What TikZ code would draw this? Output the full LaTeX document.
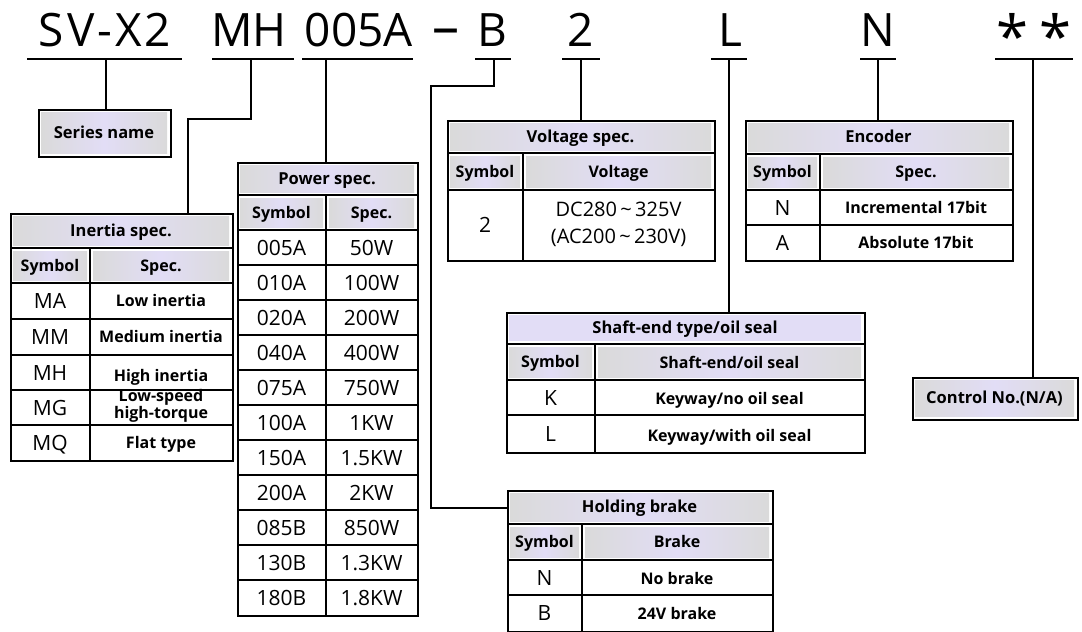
\documentclass[tikz,border=0pt]{standalone}
\usepackage{fontspec}
\setmainfont{Open Sans}
\definecolor{hgray}{RGB}{218,218,218}
\definecolor{hlav}{RGB}{226,221,246}
\tikzset{
  ln/.style={line width=1.6pt},
  tbl/.style={draw, line width=1.8pt, inner sep=0pt, anchor=north west},
  grid/.style={line width=1.8pt},
  hshade/.style={left color=hgray, right color=hgray, middle color=hlav},
  lshade/.style={fill=hlav},
  toptext/.style={font=\fontsize{46}{50}\selectfont, anchor=base, inner sep=0pt},
  hd/.style={font=\bfseries\fontsize{16.5}{18}\selectfont, inner sep=0pt, text height=11.8pt, text depth=0pt},
  bd/.style={font=\bfseries\fontsize{16}{18}\selectfont, inner sep=0pt, text height=11.4pt, text depth=0pt},
  bdm/.style={font=\bfseries\fontsize{16}{17}\selectfont, inner sep=0pt, align=center},
  rg/.style={font=\fontsize{21}{24}\selectfont, inner sep=0pt, text height=15pt, text depth=0pt},
  rgm/.style={font=\fontsize{20}{27}\selectfont, inner sep=0pt, align=center},
}
\begin{document}
\begin{tikzpicture}[x=1pt,y=-1pt]
\useasboundingbox (0,0) rectangle (1082,632);
% ---------- top code ----------
\node[toptext] (tsv) at (105,46) {S\kern3pt V\kern3pt -\kern3pt X\kern3pt 2};
\node[toptext] (tmh) at (249,46) {MH};
\node[toptext] (t005) at (359,46) {005A};
\node[toptext, font=\fontsize{54}{58}\selectfont] (tdash) at (446,45) {–};
\node[toptext] (tb) at (492,46) {B};
\node[toptext] (t2) at (581,46) {2};
\node[toptext] (tl) at (730,46) {L};
\node[toptext] (tn) at (878,46) {N};
\node[toptext, font=\fontsize{58}{60}\selectfont] (tst) at (1034,57) {*\hspace{12pt}*};
% underlines
\draw[ln] (27,59) -- (182,59);
\draw[ln] (212,59) -- (294,59);
\draw[ln] (302,59) -- (413,59);
\draw[ln] (475,59) -- (511,59);
\draw[ln] (562,59) -- (600,59);
\draw[ln] (711,59) -- (747,59);
\draw[ln] (860,59) -- (896,59);
\draw[ln] (995,59) -- (1073,59);
\coordinate (usv) at (106,59);
\coordinate (umh) at (251,59);
\coordinate (u005) at (326,59);
\coordinate (ub) at (494,59);
\coordinate (u2) at (581,59);
\coordinate (ul) at (729,59);
\coordinate (un) at (878,59);
\coordinate (ust) at (1033,59);
\coordinate (kmh) at (188,119);
\coordinate (kb) at (431,86);
\coordinate (kb2) at (431,508);

% ---------- Series name ----------
\fill[hshade] (41,112) rectangle (167,153);
\node[tbl, minimum width=132pt, minimum height=47pt] (series) at (38,109) {};
\node[hd] (seriest) at (104,132.5) {Series name};

% ---------- Inertia ----------
\fill[hshade] (13,216) rectangle (229,245);
\fill[hshade] (13,251) rectangle (87,280);
\fill[hshade] (93,251) rectangle (229,280);
\node[tbl, minimum width=222pt, minimum height=247pt] (inertia) at (10,213) {};
\draw[grid] (10,248) -- (232,248);
\foreach \y in {283,319,355,390,425} \draw[grid] (10,\y) -- (232,\y);
\draw[grid] (90,248) -- (90,460);
\node[hd] (ih) at (121,231) {Inertia spec.};
\node[bd] (is) at (50,266) {Symbol};
\node[bd] (ic) at (161,266) {Spec.};
\node[rg] (i1a) at (50,301) {MA};
\node[bd] (i1b) at (161,301) {Low inertia};
\node[rg] (i2a) at (50,337) {MM};
\node[bd] (i2b) at (161,337) {Medium inertia};
\node[rg] (i3a) at (50,372.5) {MH};
\node[bd] (i3b) at (161,376) {High inertia};
\node[rg] (i4a) at (50,407.5) {MG};
\node[bdm] (i4b) at (161,406) {Low-speed\\high-torque};
\node[rg] (i5a) at (50,442.5) {MQ};
\node[bd] (i5b) at (161,442.5) {Flat type};

% ---------- Power ----------
\fill[hshade] (240,165) rectangle (414,192);
\fill[hshade] (240,198) rectangle (323,227);
\fill[hshade] (329,198) rectangle (414,227);
\node[tbl, minimum width=180pt, minimum height=453pt] (power) at (237,162) {};
\draw[grid] (237,195) -- (417,195);
\foreach \y in {230,265,...,580} \draw[grid] (237,\y) -- (417,\y);
\draw[grid] (326,195) -- (326,615);
\node[hd] (ph) at (327,179) {Power spec.};
\node[bd] (ps) at (281.5,213) {Symbol};
\node[bd] (pc) at (371.5,213) {Spec.};
\foreach \s/\w [count=\i from 0] in {005A/50W,010A/100W,020A/200W,040A/400W,075A/750W,100A/1KW,150A/1.5KW,200A/2KW,085B/850W,130B/1.3KW,180B/1.8KW}{
  \node[rg] (pa\i) at (281.5,247.5+35*\i) {\s};
  \node[rg] (pb\i) at (371.5,247.5+35*\i) {\w};
}

% ---------- Voltage ----------
\fill[hshade] (450,123) rectangle (711,150);
\fill[hshade] (450,156) rectangle (520,187);
\fill[hshade] (526,156) rectangle (711,187);
\node[tbl, minimum width=267pt, minimum height=140pt] (volt) at (447,120) {};
\draw[grid] (447,153) -- (714,153);
\draw[grid] (447,190) -- (714,190);
\draw[grid] (523,153) -- (523,260);
\node[hd] (vh) at (580.5,136.5) {Voltage spec.};
\node[bd] (vs) at (485,171.5) {Symbol};
\node[bd] (vc) at (618.5,171.5) {Voltage};
\node[rg] (v1a) at (485,225) {2};
\node[rgm] (v1b) at (618.5,224) {DC280\,\textasciitilde\,325V\\(AC200\,\textasciitilde\,230V)};

% ---------- Encoder ----------
\fill[hshade] (748,123) rectangle (1009,151);
\fill[hshade] (748,157) rectangle (817,187);
\fill[hshade] (823,157) rectangle (1009,187);
\node[tbl, minimum width=267pt, minimum height=140pt] (enc) at (745,120) {};
\draw[grid] (745,154) -- (1012,154);
\draw[grid] (745,190) -- (1012,190);
\draw[grid] (745,225) -- (1012,225);
\draw[grid] (820,154) -- (820,260);
\node[hd] (eh) at (878.5,137) {Encoder};
\node[bd] (es) at (782.5,172) {Symbol};
\node[bd] (ec) at (916,172) {Spec.};
\node[rg] (e1a) at (782.5,207.5) {N};
\node[bd] (e1b) at (916,207.5) {Incremental 17bit};
\node[rg] (e2a) at (782.5,242.5) {A};
\node[bd] (e2b) at (916,242.5) {Absolute 17bit};

% ---------- Shaft ----------
\fill[lshade] (509,315) rectangle (861,341);
\fill[hshade] (509,347) rectangle (592,377);
\fill[hshade] (598,347) rectangle (861,377);
\node[tbl, minimum width=358pt, minimum height=140pt] (shaft) at (506,312) {};
\draw[grid] (506,344) -- (864,344);
\draw[grid] (506,380) -- (864,380);
\draw[grid] (506,415) -- (864,415);
\draw[grid] (595,344) -- (595,452);
\node[hd] (sh) at (685,328) {Shaft-end type/oil seal};
\node[bd] (ss) at (550.5,362) {Symbol};
\node[bd] (sc) at (729.5,363) {Shaft-end/oil seal};
\node[rg] (s1a) at (550.5,397.5) {K};
\node[bd] (s1b) at (729.5,399) {Keyway/no oil seal};
\node[rg] (s2a) at (550.5,433.5) {L};
\node[bd] (s2b) at (729.5,436) {Keyway/with oil seal};

% ---------- Holding brake ----------
\fill[hshade] (510,493) rectangle (769,521);
\fill[hshade] (510,527) rectangle (579,557);
\fill[hshade] (585,527) rectangle (769,557);
\node[tbl, minimum width=265pt, minimum height=141pt] (brake) at (507,490) {};
\draw[grid] (507,524) -- (772,524);
\draw[grid] (507,560) -- (772,560);
\draw[grid] (507,595) -- (772,595);
\draw[grid] (582,524) -- (582,631);
\node[hd] (bh) at (639.5,507) {Holding brake};
\node[bd] (bs) at (544.5,542) {Symbol};
\node[bd] (bc) at (677,542) {Brake};
\node[rg] (b1a) at (544.5,577.5) {N};
\node[bd] (b1b) at (677,579) {No brake};
\node[rg] (b2a) at (544.5,613) {B};
\node[bd] (b2b) at (677,614) {24V brake};

% ---------- Control No ----------
\fill[hshade] (915,380) rectangle (1074,416);
\node[tbl, minimum width=165pt, minimum height=42pt] (ctrl) at (912,377) {};
\node[hd] (ctrlt) at (994.5,398) {Control No.(N/A)};

% ---------- connectors ----------
\draw[ln] (usv) -- (usv |- series.north);
\draw[ln] (umh) |- (kmh) -- (kmh |- inertia.north);
\draw[ln] (u005) -- (u005 |- power.north);
\draw[ln] (ub) |- (kb) -- (kb2) -- (kb2 -| brake.west);
\draw[ln] (u2) -- (u2 |- volt.north);
\draw[ln] (ul) -- (ul |- shaft.north);
\draw[ln] (un) -- (un |- enc.north);
\draw[ln] (ust) -- (ust |- ctrl.north);
\end{tikzpicture}
\end{document}
